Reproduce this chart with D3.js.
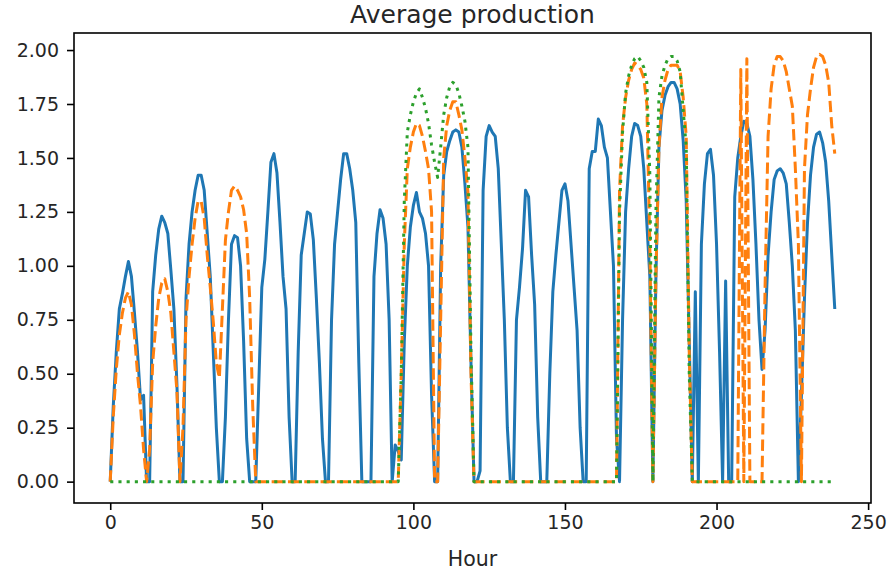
<!DOCTYPE html>
<html lang="en">
<head>
    <meta charset="UTF-8">
    <title>Average production</title>
    <script src="https://d3js.org/d3.v7.min.js"></script>
    <style>
        body {
            margin: 0;
            background: #fff;
            font-family: 'DejaVu Sans', sans-serif;
            overflow: hidden;
        }
        .tick text { fill: #262626; }
    </style>
</head>
<body>
    <script>
        // hourly values, one row of 12 per line
        const lineA = [
            0, 0.35, 0.6, 0.8, 0.87, 0.95, 1.02, 0.95, 0.78, 0.6, 0.38, 0.4,
            0, 0, 0.88, 1.05, 1.17, 1.23, 1.2, 1.15, 0.98, 0.8, 0.45, 0,
            0, 0.85, 1.1, 1.25, 1.35, 1.42, 1.42, 1.35, 1.15, 0.95, 0.6, 0.25,
            0, 0, 0.3, 0.75, 1.1, 1.14, 1.13, 1.0, 0.65, 0.2, 0, 0,
            0, 0.45, 0.9, 1.03, 1.25, 1.48, 1.52, 1.43, 1.2, 0.95, 0.8, 0.3,
            0, 0, 0.6, 1.05, 1.15, 1.25, 1.24, 1.12, 0.85, 0.55, 0.2, 0,
            0, 0.75, 1.1, 1.25, 1.4, 1.52, 1.52, 1.45, 1.35, 1.2, 0.55, 0,
            0, 0, 0, 0.95, 1.15, 1.26, 1.22, 1.1, 0.75, 0, 0.17, 0.14,
            0.1, 0.65, 1.0, 1.18, 1.28, 1.34, 1.25, 1.22, 1.15, 1.0, 0.4, 0,
            0, 1.0, 1.42, 1.53, 1.58, 1.62, 1.63, 1.62, 1.55, 1.38, 1.18, 0.55,
            0, 0, 0.05, 1.35, 1.6, 1.65, 1.62, 1.6, 1.45, 1.1, 0.75, 0.25,
            0, 0, 0.75, 0.9, 1.08, 1.35, 1.32, 1.05, 0.82, 0.3, 0, 0,
            0, 0.5, 0.88, 1.05, 1.2, 1.35, 1.38, 1.3, 1.1, 0.9, 0.7, 0.25,
            0, 0, 1.45, 1.53, 1.53, 1.68, 1.65, 1.55, 1.5, 1.25, 1.0, 0.2,
            0, 0.75, 1.25, 1.45, 1.6, 1.66, 1.65, 1.6, 1.45, 1.2, 0.95, 0,
            0.95, 1.55, 1.72, 1.79, 1.83, 1.85, 1.85, 1.82, 1.75, 1.58, 1.3, 0.65,
            0, 0.88, 0, 1.1, 1.38, 1.52, 1.54, 1.42, 1.1, 0.6, 0, 0.93,
            0, 0, 1.32, 1.5, 1.6, 1.67, 1.66, 1.6, 1.4, 1.1, 0.75, 0.52,
            0.7, 1.05, 1.25, 1.4, 1.44, 1.45, 1.43, 1.38, 1.2, 1.0, 0.7, 0,
            0.4, 0.85, 1.2, 1.42, 1.55, 1.61, 1.62, 1.57, 1.48, 1.3, 1.05, 0.8
        ];

        const lineB = [
            0, 0.3, 0.52, 0.68, 0.78, 0.85, 0.88, 0.82, 0.68, 0.5, 0.35, 0.15,
            0, 0.15, 0.55, 0.72, 0.85, 0.92, 0.94, 0.88, 0.78, 0.6, 0.42, 0,
            0.25, 0.75, 0.95, 1.1, 1.22, 1.3, 1.3, 1.22, 1.05, 0.9, 0.74, 0.55,
            0.48, 0.8, 1.12, 1.25, 1.35, 1.37, 1.35, 1.32, 1.26, 1.15, 0.85, 0.35,
            0, 0, 0, 0, 0, 0, 0, 0, 0, 0, 0, 0,
            0, 0, 0, 0, 0, 0, 0, 0, 0, 0, 0, 0,
            0, 0, 0, 0, 0, 0, 0, 0, 0, 0, 0, 0,
            0, 0, 0, 0, 0, 0, 0, 0, 0, 0, 0, 0,
            0.5, 1.1, 1.45, 1.55, 1.62, 1.66, 1.65, 1.6, 1.53, 1.45, 1.25, 0,
            0, 0.75, 1.5, 1.65, 1.72, 1.76, 1.76, 1.7, 1.63, 1.5, 1.34, 0.5,
            0, 0, 0, 0, 0, 0, 0, 0, 0, 0, 0, 0,
            0, 0, 0, 0, 0, 0, 0, 0, 0, 0, 0, 0,
            0, 0, 0, 0, 0, 0, 0, 0, 0, 0, 0, 0,
            0, 0, 0, 0, 0, 0, 0, 0, 0, 0, 0, 0,
            1.35, 1.65, 1.78, 1.86, 1.91, 1.94, 1.93, 1.91, 1.87, 1.75, 1.1, 0,
            0.95, 1.55, 1.78, 1.86, 1.91, 1.93, 1.93, 1.93, 1.9, 1.78, 1.6, 0.6,
            0, 0, 0, 0, 0, 0, 0, 0, 0, 0, 0, 0,
            0, 0, 0, 0, 1.91, 0, 1.96, 0, 0, 0, 0, 0,
            0.9, 1.6, 1.82, 1.93, 1.97, 1.97, 1.95, 1.9, 1.82, 1.74, 1.45, 1.1,
            0, 1.45, 1.7, 1.82, 1.92, 1.97, 1.98, 1.97, 1.93, 1.85, 1.65, 1.52
        ];

        const lineC = [
            0, 0, 0, 0, 0, 0, 0, 0, 0, 0, 0, 0,
            0, 0, 0, 0, 0, 0, 0, 0, 0, 0, 0, 0,
            0, 0, 0, 0, 0, 0, 0, 0, 0, 0, 0, 0,
            0, 0, 0, 0, 0, 0, 0, 0, 0, 0, 0, 0,
            0, 0, 0, 0, 0, 0, 0, 0, 0, 0, 0, 0,
            0, 0, 0, 0, 0, 0, 0, 0, 0, 0, 0, 0,
            0, 0, 0, 0, 0, 0, 0, 0, 0, 0, 0, 0,
            0, 0, 0, 0, 0, 0, 0, 0, 0, 0, 0, 0,
            0.5, 1.3, 1.62, 1.7, 1.76, 1.8, 1.82, 1.78, 1.73, 1.66, 1.56, 1.48,
            1.41, 1.55, 1.7, 1.78, 1.83, 1.85, 1.84, 1.8, 1.74, 1.67, 1.55, 0.6,
            0, 0, 0, 0, 0, 0, 0, 0, 0, 0, 0, 0,
            0, 0, 0, 0, 0, 0, 0, 0, 0, 0, 0, 0,
            0, 0, 0, 0, 0, 0, 0, 0, 0, 0, 0, 0,
            0, 0, 0, 0, 0, 0, 0, 0, 0, 0, 0, 0,
            1.25, 1.62, 1.8, 1.88, 1.93, 1.96, 1.97, 1.95, 1.92, 1.85, 1.42, 0,
            1.25, 1.78, 1.88, 1.93, 1.96, 1.97, 1.97, 1.95, 1.9, 1.72, 1.55, 0.5,
            0, 0, 0, 0, 0, 0, 0, 0, 0, 0, 0, 0,
            0, 0, 0, 0, 0, 0, 0, 0, 0, 0, 0, 0,
            0, 0, 0, 0, 0, 0, 0, 0, 0, 0, 0, 0,
            0, 0, 0, 0, 0, 0, 0, 0, 0, 0, 0, 0
        ];

        const xTicks = [0, 50, 100, 150, 200, 250];
        const yTicks = [0, 0.25, 0.5, 0.75, 1.0, 1.25, 1.5, 1.75, 2.0];

        const width = 890;
        const height = 574;
        const plot = { left: 74, top: 33, right: 871, bottom: 503 };

        const svg = d3.select("body")
            .append("svg")
            .attr("width", width)
            .attr("height", height);

        // matplotlib style 5% margins
        const allVals = lineA.concat(lineB, lineC);
        const yMin = d3.min(allVals), yMax = d3.max(allVals);
        const yPad = (yMax - yMin) * 0.05;
        const xPad = (lineA.length - 1) * 0.05;

        const x = d3.scaleLinear()
            .domain([-xPad, lineA.length - 1 + xPad])
            .range([plot.left, plot.right]);

        const y = d3.scaleLinear()
            .domain([yMin - yPad, yMax + yPad])
            .range([plot.bottom, plot.top]);

        const line = d3.line()
            .x((d, i) => x(i))
            .y(d => y(d));

        const series = [
            { values: lineA, color: "#1f77b4", dash: null },
            { values: lineB, color: "#ff7f0e", dash: "11.4,4.9" },
            { values: lineC, color: "#2ca02c", dash: "3.1,5.1" }
        ];

        svg.selectAll("path.series")
            .data(series)
            .enter()
            .append("path")
            .attr("class", "series")
            .attr("d", d => line(d.values))
            .attr("fill", "none")
            .attr("stroke", d => d.color)
            .attr("stroke-width", 3)
            .attr("stroke-linejoin", "round")
            .attr("stroke-dasharray", d => d.dash);

        const xAxis = svg.append("g")
            .attr("transform", `translate(0,${plot.bottom})`)
            .call(d3.axisBottom(x).tickValues(xTicks).tickSize(7).tickPadding(6).tickFormat(d3.format("d")));

        const yAxis = svg.append("g")
            .attr("transform", `translate(${plot.left},0)`)
            .call(d3.axisLeft(y).tickValues(yTicks).tickSize(7).tickPadding(8).tickFormat(d3.format(".2f")));

        [xAxis, yAxis].forEach(g => {
            g.select(".domain").remove();
            g.selectAll(".tick line").attr("stroke", "#000").attr("stroke-width", 1.6);
            g.selectAll(".tick text")
                .style("font-family", "'DejaVu Sans', sans-serif")
                .style("font-size", "19px");
        });

        // frame
        svg.append("rect")
            .attr("x", plot.left)
            .attr("y", plot.top)
            .attr("width", plot.right - plot.left)
            .attr("height", plot.bottom - plot.top)
            .attr("fill", "none")
            .attr("stroke", "#000")
            .attr("stroke-width", 1.6);

        svg.append("text")
            .attr("x", (plot.left + plot.right) / 2)
            .attr("y", 23)
            .attr("text-anchor", "middle")
            .style("font-size", "25px")
            .style("fill", "#262626")
            .text("Average production");

        svg.append("text")
            .attr("x", (plot.left + plot.right) / 2)
            .attr("y", 566)
            .attr("text-anchor", "middle")
            .style("font-size", "20.5px")
            .style("fill", "#262626")
            .text("Hour");
    </script>
</body>
</html>
